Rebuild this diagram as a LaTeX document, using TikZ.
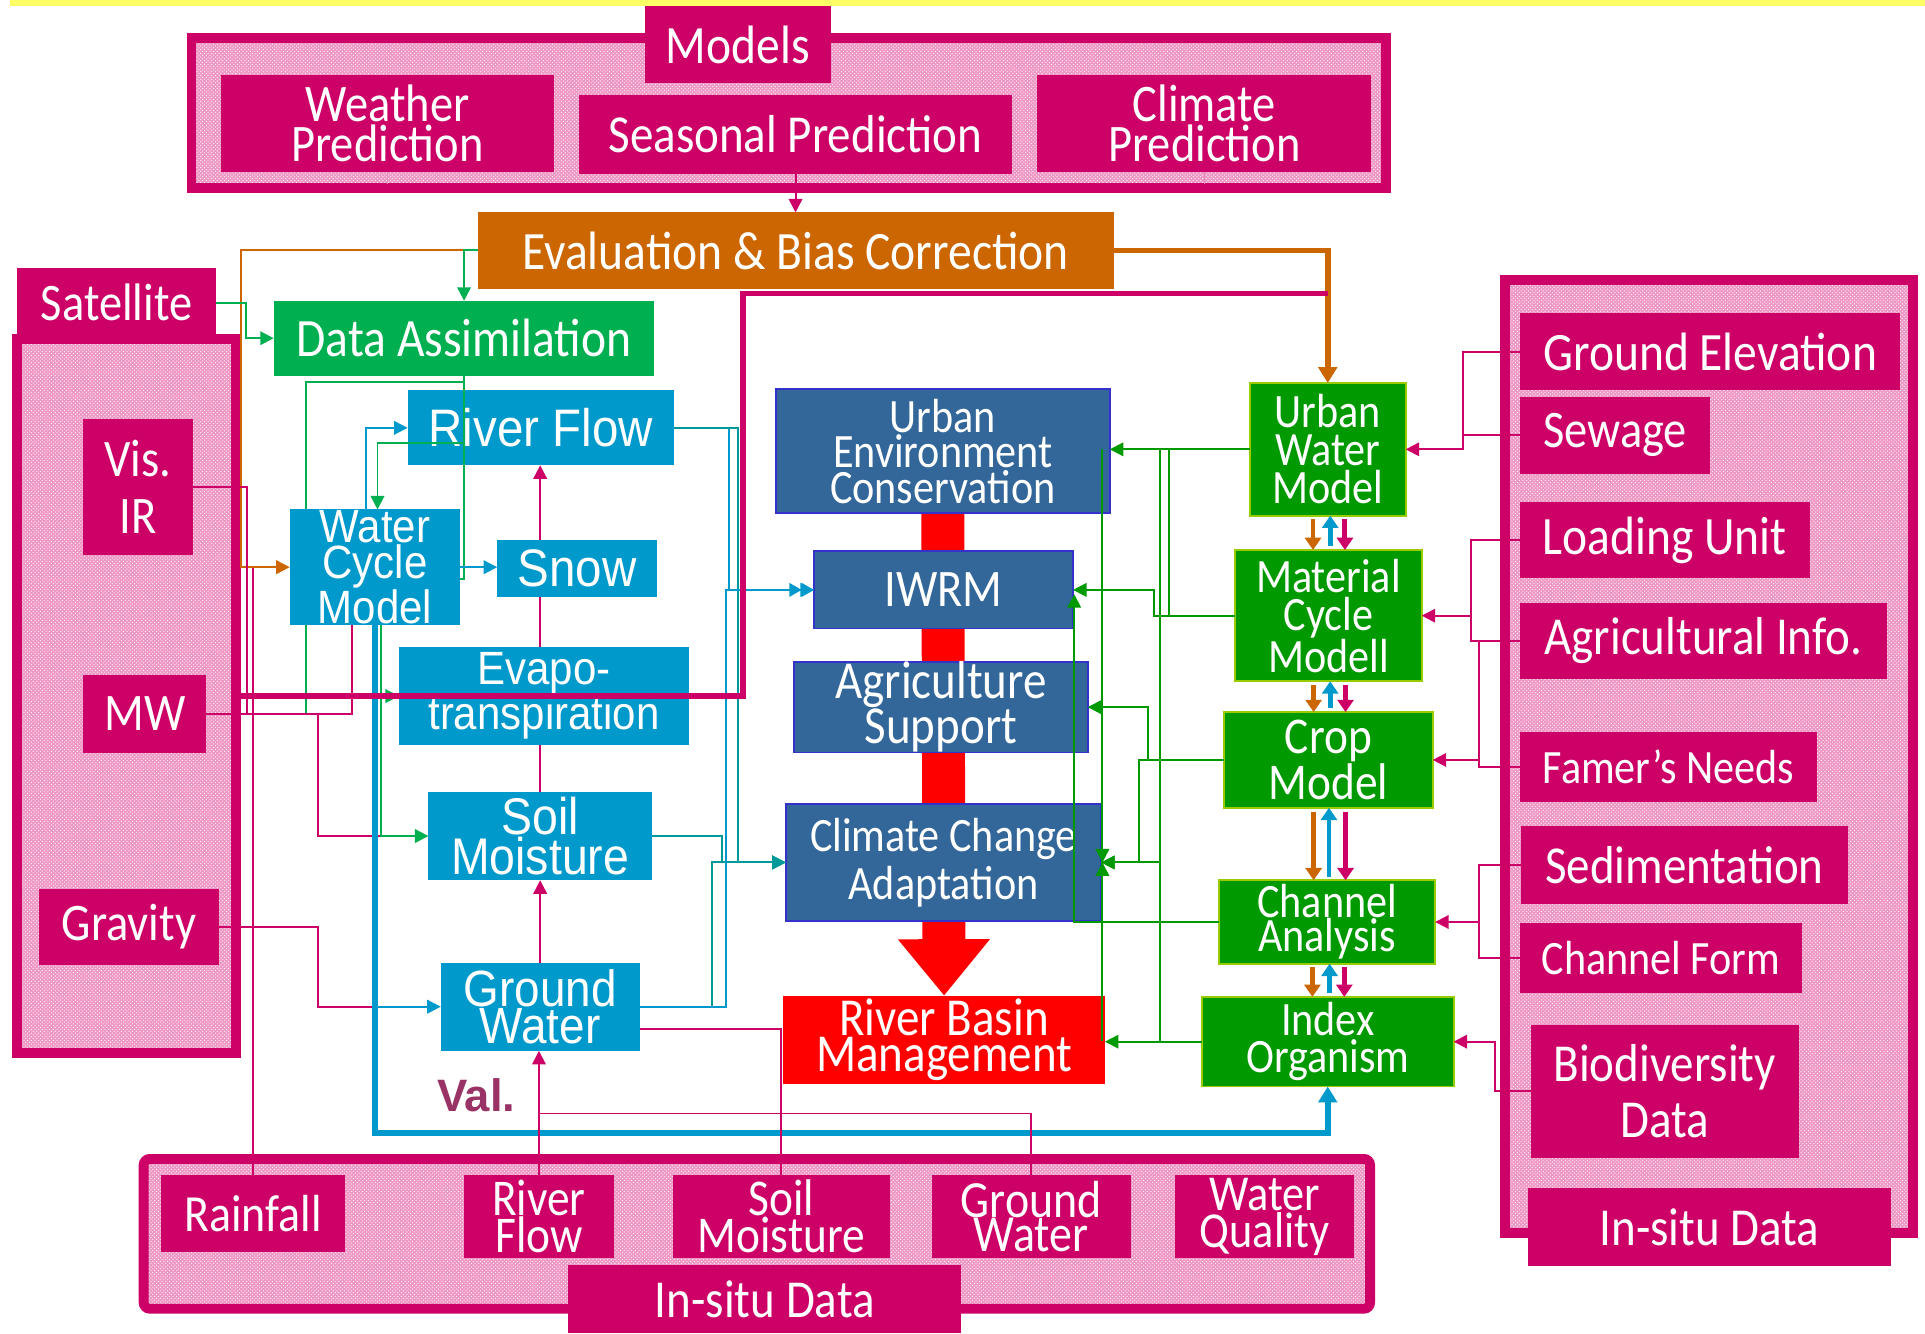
\documentclass[tikz,border=0pt]{standalone}
\usepackage{fontspec}
\setmainfont{Carlito}
\newfontfamily\cf[FakeStretch=0.88]{Carlito}
\newfontfamily\af[FakeStretch=0.9]{Liberation Sans}
\newfontfamily\vf{Liberation Sans}
\usetikzlibrary{arrows.meta,patterns}
\definecolor{mag}{RGB}{204,0,102}
\definecolor{pinkbg}{RGB}{238,150,196}
\definecolor{yel}{RGB}{255,255,102}
\definecolor{orng}{RGB}{204,102,0}
\definecolor{dagreen}{RGB}{0,176,80}
\definecolor{skyb}{RGB}{0,153,204}
\definecolor{navyb}{RGB}{51,102,153}
\definecolor{navyedge}{RGB}{51,51,204}
\definecolor{modgreen}{RGB}{0,153,0}
\definecolor{modedge}{RGB}{153,204,0}
\definecolor{tealc}{RGB}{0,153,153}
\definecolor{valc}{RGB}{153,51,102}
\definecolor{rbred}{RGB}{255,0,0}
\pgfdeclarelayer{bg}
\pgfsetlayers{bg,main}
\newcommand\fs[2]{\fontsize{#1}{#2}\selectfont}
% box from corner (x1,y1) to (x2,y2)
\newcommand\bx[7]{\node[#6,minimum width={(#4-#2)*1pt},minimum height={(#5-#3)*1pt}] (#1) at ({(#2+#4)/2},{(#3+#5)/2}) {#7};}
% hatched pink group frame
\newcommand\pinkframe[5][0pt]{%
  \fill[pinkbg,rounded corners=#1] (#2,#3) rectangle (#4,#5);
  \fill[pattern=crosshatch dots,pattern color=white,rounded corners=#1] (#2,#3) rectangle (#4,#5);
  \draw[mag,line width=8pt,rounded corners=#1] (#2,#3) rectangle (#4,#5);}
\begin{document}
\begin{tikzpicture}[x=1pt,y=-1pt,
  lbl/.style={inner sep=0pt,outer sep=0pt,align=center,text=white},
  magbox/.style={lbl,fill=mag,font=\cf\fs{43}{32}},
  bluebox/.style={lbl,fill=skyb,font=\af\fs{42}{28}},
  navybox/.style={lbl,fill=navyb,draw=navyedge,line width=1.5pt,font=\cf\fs{43}{29}},
  modbox/.style={lbl,fill=modgreen,draw=modedge,line width=1.5pt,font=\cf\fs{39}{31}},
  arr/.style={-{Triangle[length=11pt,width=11pt]}},
  arrbig/.style={-{Triangle[length=13pt,width=15pt]}},
  arrdbl/.style={-{Triangle[length=10pt,width=11pt]Triangle[length=10pt,width=11pt]}},
  lnmag/.style={line width=1.6pt,draw=mag},
  lngr/.style={line width=1.6pt,draw=modgreen},
  lnda/.style={line width=1.6pt,draw=dagreen},
  lnsky/.style={line width=1.6pt,draw=skyb},
  lnteal/.style={line width=1.6pt,draw=tealc},
  lnor/.style={line width=1.6pt,draw=orng},
  thk/.style={line width=4.5pt},
  tri/.style={line width=4pt,shorten <=3pt,-{Triangle[length=10pt,width=13pt]}}]
\useasboundingbox (0,0) rectangle (1568,1086);
\fill[yel] (8,0) rectangle (1568,5);

% group frames
\pinkframe{156}{31}{1129}{153}
\pinkframe{14}{276}{192}{858}
\pinkframe{1226}{228}{1558}{1004}
\pinkframe[5pt]{117}{944}{1116}{1066}

% model outputs
\bx{models}{525}{5}{677}{68}{magbox,font=\cf\fs{44}{44}}{Models}
\bx{weather}{180}{61}{451}{140}{magbox}{Weather\\Prediction}
\bx{seasonal}{472}{77}{824}{142}{magbox,font=\cf\fs{43.5}{44}}{Seasonal Prediction}
\bx{climatep}{845}{61}{1117}{140}{magbox}{Climate\\Prediction}
\bx{eval}{389}{173}{907}{235}{lbl,fill=orng,font=\cf\fs{44}{44}}{Evaluation \& Bias Correction}
\bx{da}{223}{245}{533}{306}{lbl,fill=dagreen,font=\cf\fs{44}{44}}{Data Assimilation}

% satellite sensors
\bx{sat}{14}{218}{176}{275}{magbox}{Satellite}
\bx{visir}{68}{341}{157}{452}{magbox,font=\cf\fs{43}{46}}{Vis.\\IR}
\bx{mw}{68}{550}{168}{613}{magbox}{MW}
\bx{grav}{32}{724}{178}{786}{magbox}{Gravity}

% water cycle components
\bx{rf}{332}{318}{549}{379}{bluebox,font=\af\fs{43}{43}}{River Flow}
\bx{wcm}{236}{415}{375}{509}{bluebox,font=\af\fs{38}{26}}{Water\\Cycle\\Model}
\bx{snow}{405}{440}{535}{486}{bluebox,font=\af\fs{43}{43}}{Snow}
\bx{evapo}{325}{527}{561}{607}{bluebox,font=\af\fs{38}{33}}{Evapo-\\transpiration}
\bx{sm}{349}{645}{531}{717}{bluebox}{Soil\\Moisture}
\bx{gw}{359}{784}{521}{856}{bluebox,font=\af\fs{41.5}{28}}{Ground\\Water}
\node[font=\vf\bfseries\fs{37}{37},text=valc,inner sep=0pt] (val) at (388,892) {Val.};

% applications
\bx{uec}{632}{317}{904}{418}{navybox,font=\cf\fs{39}{29}}{Urban\\Environment\\Conservation}
\bx{iwrm}{663}{449}{874}{512}{navybox,font=\cf\fs{43}{43}}{IWRM}
\bx{ags}{647}{540}{886}{612}{navybox,font=\cf\fs{43.5}{29}}{Agriculture\\Support}
\bx{cca}{640}{655}{897}{750}{navybox,font=\cf\fs{39}{39}}{Climate Change\\Adaptation}
\bx{rbm}{638}{811}{900}{883}{lbl,fill=rbred,font=\cf\fs{43.5}{29}}{River Basin\\Management}

% impact models
\bx{uwm}{1018}{312}{1145}{420}{modbox}{Urban\\Water\\Model}
\bx{mcm}{1006}{448}{1158}{555}{modbox}{Material\\Cycle\\Modell}
\bx{crop}{997}{580}{1167}{658}{modbox,font=\cf\fs{42}{32}}{Crop\\Model}
\bx{cha}{993}{717}{1169}{785}{modbox,font=\cf\fs{39}{28}}{Channel\\Analysis}
\bx{io}{979}{812}{1184}{885}{modbox,font=\cf\fs{39}{30}}{Index\\Organism}

% in-situ data (right)
\bx{gelev}{1238}{255}{1548}{318}{magbox,font=\cf\fs{44}{44}}{Ground Elevation}
\bx{sewage}{1238}{323}{1393}{386}{magbox,font=\cf\fs{43}{43}}{Sewage}
\bx{load}{1238}{409}{1474}{471}{magbox,font=\cf\fs{44}{44}}{Loading Unit}
\bx{agri}{1238}{491}{1537}{553}{magbox,font=\cf\fs{43.5}{44}}{Agricultural Info.}
\bx{famer}{1238}{596}{1480}{653}{magbox,font=\cf\fs{39}{39}}{Famer’s Needs}
\bx{sedi}{1239}{673}{1505}{736}{magbox,font=\cf\fs{43.5}{44}}{Sedimentation}
\bx{chform}{1238}{752}{1468}{809}{magbox,font=\cf\fs{39}{39}}{Channel Form}
\bx{bio}{1247}{835}{1465}{943}{magbox,font=\cf\fs{43.5}{46}}{Biodiversity\\Data}
\bx{rinsitu}{1245}{968}{1540}{1031}{magbox,font=\cf\fs{43.5}{44}}{In-situ Data}

% in-situ data (bottom)
\bx{rain}{131}{957}{281}{1020}{magbox,font=\cf\fs{42.5}{44}}{Rainfall}
\bx{bRF}{378}{957}{500}{1025}{magbox,font=\cf\fs{42}{28}}{River\\Flow}
\bx{bSM}{548}{957}{725}{1025}{magbox,font=\cf\fs{42}{28}}{Soil\\Moisture}
\bx{bGW}{759}{957}{921}{1025}{magbox,font=\cf\fs{42.5}{28}}{Ground\\Water}
\bx{bWQ}{957}{957}{1103}{1025}{magbox,font=\cf\fs{41}{28}}{Water\\Quality}
\bx{binsitu}{463}{1030}{783}{1086}{magbox,font=\cf\fs{43.5}{44}}{In-situ Data}

% links running behind the boxes
\begin{pgfonlayer}{bg}
  \draw[rbred,line width=35pt,-{Triangle[length=46pt,width=72pt]}] (uec.south) -- (rbm.north);
  \draw[lnmag,arr] (sm.north) -- (sm.north |- rf.south);
  \draw[lnda] (da.south) -- (378,311) -- (249,311) -- (249,581.5);
\end{pgfonlayer}

% model group ticks and feed into evaluation
\draw[line width=1pt,draw=white!55!mag] (weather.south) -- ++(0,10);
\draw[line width=1pt,draw=white!55!mag] (climatep.south) -- ++(0,10);
\draw[lnmag,arr] (seasonal.south) -- (seasonal.south |- eval.north);

% evaluation outputs
\draw[orng,thk,arrbig] (eval.east) -| (uwm.north);
\draw[lnor,arr] (eval.west) -- (196,204) |- (wcm.west);
\draw[lnda,arr] (eval.west) -| (da.north);
\draw[lnda,arr] (sat.east) -- (200,246.5) |- (da.west);

% satellite lines
\coordinate (mwout) at (192,567);
\draw[lnmag] (visir.east) -- (201,396.5) -- (201,581.5);
\draw[lnmag] (rain.north) -- (206,463);
\draw[lnmag] (mw.east) -- (287,581.5) -- (287,0 |- wcm.south);
\draw[lnmag] (259,581.5) -- (259,681) -- (310.5,681);
\draw[lnmag] (grav.east) -- (259,755) -- (259,820) -- (305.5,820);

% assimilation into the water cycle model
\draw[lnda] (da.south) -- (378,472) -- (wcm.east |- 0,472);
\draw[lnda,arr] (378,361) -| ([xshift=2pt]wcm.north);
\draw[lnsky,arr] ([xshift=-7pt]wcm.north) |- (rf.west);
\draw[lnsky,arr] (wcm.east) -- (wcm.east -| snow.west);
\draw[lnda,arr] ([xshift=5pt]wcm.south) |- (sm.west);
\draw[lnda,arr] (310.5,567) -- (evapo.west);
\draw[skyb,thk,arrbig] (wcm.south) -- (305.5,923) -| (io.south);
\draw[lnsky,arr] (305.5,820) -- (gw.west);

% validation with in-situ data
\draw[lnmag,arr] (gw.north) -- (gw.north |- sm.south);
\draw[lnmag,arr] (bRF.north) -- (bRF.north |- gw.south);
\draw[lnmag] (bRF.north |- 0,907) -- (840,907) -- (bGW.north);
\draw[lnmag] (bSM.north) |- (gw.east |- 0,838);

% water cycle outputs to applications
\draw[lnsky,arrdbl] (rf.east) -- (594,348.5) |- (iwrm.west);
\draw[lnteal,arr] (rf.east) -- (601,348.5) |- (cca.west);
\draw[lnteal,arr] (sm.east) -- (588,681) |- (cca.west);
\draw[lnteal,arr] (gw.east) -- (580,820) |- (cca.west);
\draw[lnsky,arr] (gw.east) -- (591,820) |- (iwrm.west);

% satellite link to urban model
\draw[mag,thk] (mwout) -- (605,567) -- (605,239) -- (1082,239);

% impact models to applications
\draw[lngr,arr] (uwm.west) -- (uwm.west -| uec.east);
\draw[lngr] (898,366) -- (898,848);
\draw[lngr] (945,366) -- (945,848);
\draw[lngr] (952,366) -- (952,501.5);
\draw[lngr,arr] (mcm.west) -- (940,501.5) |- (iwrm.east);
\draw[lngr,arr] (crop.west) -- (935,619) |- (ags.east);
\draw[lngr,arr] (crop.west) -- (928,619) |- (cca.east);
\draw[lngr,arr] (cha.west) -- (945,751) |- (cca.east);
\draw[lngr,arr] (cha.west) -- (875,751) -- (875,484);
\draw[lngr,arr] (io.west) -- (io.west -| rbm.east);
\draw[lngr,arr] (898,676) -- (898,702.5);
\draw[lngr,arr] (898,729) -- (898,702.5);

% exchanges between impact models
\foreach \a/\b in {uwm/mcm,mcm/crop,crop/cha,cha/io}{
  \draw[orng,tri] ([xshift=-12pt]\a.south) -- ([xshift=-12pt]\a.south |- \b.north);
  \draw[skyb,tri] ([xshift=1.5pt]\b.north) -- ([xshift=1.5pt]\b.north |- \a.south);
  \draw[mag,tri] ([xshift=14pt]\a.south) -- ([xshift=14pt]\a.south |- \b.north);
}

% in-situ data to impact models
\draw[lnmag,arr] (gelev.west) -- (1192,286.5) |- (uwm.east);
\draw[lnmag] (sewage.west) -- (1192,354.5);
\draw[lnmag,arr] (load.west) -- (1198,440) |- (mcm.east);
\draw[lnmag] (agri.west) -- (1198,522) -- (1198,501.5);
\draw[lnmag,arr] (agri.west) -- (1205,522) |- (crop.east);
\draw[lnmag] (famer.west) -- (1205,624.5) -- (1205,619);
\draw[lnmag,arr] (sedi.west) -- (1205,704.5) |- (cha.east);
\draw[lnmag] (chform.west) -- (1205,780.5) -- (1205,751);
\draw[lnmag,arr] (bio.west) -- (1218,889) |- (io.east);
\end{tikzpicture}
\end{document}
